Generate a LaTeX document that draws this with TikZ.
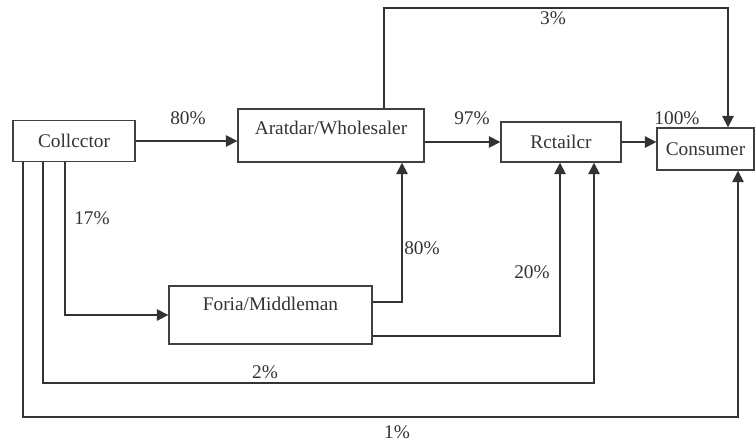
\documentclass[tikz,border=0pt]{standalone}
\usepackage{fontspec}
\setmainfont{Liberation Serif}
\usetikzlibrary{arrows.meta}

\tikzset{
  box/.style={draw=black!75, line width=0.8pt, rectangle, inner sep=0pt, text=black!80},
  flow/.style={draw=black!80, line width=0.9pt, -{Triangle[length=6.5pt,width=6.5pt]}},
  pct/.style={text=black!80, inner sep=0pt}
}

\begin{document}
\begin{tikzpicture}[x=0.02cm, y=-0.02cm]
        \fontsize{11}{13}\selectfont
        \useasboundingbox (0,0) rectangle (756,440);

        \node[box, minimum width=2.44cm, minimum height=0.82cm] (col) at (74,141) {Collcctor};
        \node[box, minimum width=3.72cm, minimum height=1.06cm, text depth=9pt] (ara) at (331,135.5) {Aratdar/Wholesaler};
        \node[box, minimum width=2.4cm, minimum height=0.8cm] (ret) at (561,142) {Rctailcr};
        \node[box, minimum width=1.94cm, minimum height=0.84cm] (con) at (705.5,149) {Consumer};
        \node[box, minimum width=4.06cm, minimum height=1.16cm, text depth=13pt] (for) at (270.5,315) {Foria/Middleman};

        \coordinate (t1) at (384,8);
        \coordinate (t2) at (728,8);
        \coordinate (m1) at (65,0);
        \coordinate (f1) at (402,302);
        \coordinate (f2) at (560,336);
        \coordinate (b2) at (43,383);
        \coordinate (b2r) at (594,383);
        \coordinate (b1) at (23,417);
        \coordinate (b1r) at (738,417);

        \draw[flow] (col.east) -- (col.east -| ara.west);
        \draw[flow] (ret.west -| ara.east) -- (ret.west);
        \draw[flow] (ret.east) -- (ret.east -| con.west);
        \draw[flow] (ara.north -| t1) -- (t1) -- (t2) -- (t2 |- con.north);

        \draw[flow] (col.south -| m1) |- (for.west);
        \draw[flow] (for.east |- f1) -- (f1) -- (f1 |- ara.south);
        \draw[flow] (for.east |- f2) -- (f2) -- (f2 |- ret.south);

        \draw[flow] (col.south -| b2) -- (b2) -- (b2r) -- (b2r |- ret.south);
        \draw[flow] (col.south -| b1) -- (b1) -- (b1r) -- (b1r |- con.south);

        \node[pct] (l80a) at (188,118) {80\%};
        \node[pct] (l97) at (472,118) {97\%};
        \node[pct] (l100) at (677,118) {100\%};
        \node[pct] (l3) at (553,18) {3\%};
        \node[pct] (l17) at (92,218) {17\%};
        \node[pct] (l80b) at (422,248) {80\%};
        \node[pct] (l20) at (532,272) {20\%};
        \node[pct] (l2) at (265,372) {2\%};
        \node[pct] (l1) at (397,432) {1\%};
      \end{tikzpicture}
\end{document}
